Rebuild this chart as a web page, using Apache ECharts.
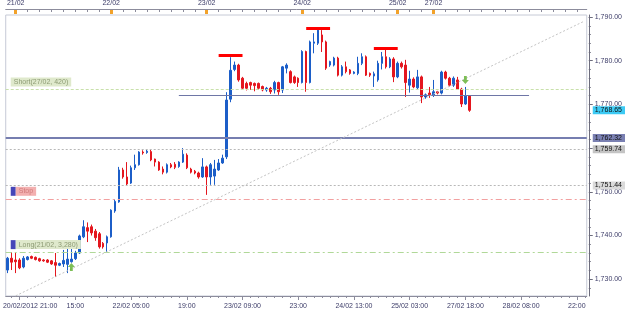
<!DOCTYPE html>
<html lang="en">
<head>
<meta charset="UTF-8">
<title>XAU H1</title>
<script src="https://cdn.jsdelivr.net/npm/echarts@6/dist/echarts.min.js"></script>
<style>html,body{margin:0;padding:0;background:#fff}</style>
</head>
<body>
<div id="container" style="width:625px;height:314px;"></div>
<script>
// hourly candles
var opens = [1732.1,1734.8,1734.4,1734.4,1732.8,1734.5,1735.2,1735.0,1734.7,1734.4,
  1734.4,1734.2,1733.8,1733.2,1733.5,1733.4,1734.0,1734.7,1736.0,1739.7,
  1741.8,1742.0,1741.0,1740.4,1738.2,1738.3,1739.7,1745.6,1747.7,1755.0,
  1753.4,1752.0,1755.5,1756.2,1759.1,1759.0,1759.2,1757.5,1756.8,1755.2,
  1754.5,1756.2,1756.3,1755.8,1756.8,1758.4,1755.2,1754.7,1754.3,1753.4,
  1755.7,1753.4,1753.6,1755.0,1756.6,1758.0,1771.2,1778.0,1779.0,1776.0,
  1774.8,1775.0,1774.8,1774.8,1774.1,1773.3,1773.7,1773.3,1775.0,1773.3,
  1778.3,1777.5,1776.3,1776.0,1775.0,1782.1,1775.0,1784.0,1784.0,1785.9,
  1784.3,1779.0,1779.0,1780.6,1776.7,1778.6,1777.9,1777.1,1777.1,1779.4,
  1780.9,1777.1,1776.5,1775.6,1779.4,1780.9,1778.6,1780.4,1776.3,1779.4,
  1779.0,1774.4,1775.8,1773.8,1776.3,1771.7,1772.6,1772.2,1772.9,1772.6,
  1777.4,1776.0,1774.4,1775.6,1773.5,1770.1,1771.9];
var closes = [1734.8,1733.9,1734.0,1732.6,1734.8,1735.1,1734.8,1734.5,1734.2,1734.2,
  1733.9,1733.5,1733.2,1733.6,1734.3,1734.6,1734.6,1736.0,1739.9,1742.0,
  1741.0,1740.6,1739.5,1737.4,1737.4,1739.7,1745.8,1747.8,1755.0,1753.4,
  1751.8,1755.5,1756.2,1759.1,1758.9,1759.3,1757.3,1756.8,1755.0,1754.5,
  1756.2,1755.7,1755.6,1756.8,1758.6,1755.5,1754.5,1754.3,1753.4,1755.7,
  1753.4,1756.2,1755.2,1756.6,1757.7,1771.0,1777.8,1779.0,1775.6,1773.7,
  1773.7,1774.4,1774.3,1773.7,1773.3,1773.7,1772.9,1775.0,1772.9,1778.6,
  1779.0,1775.0,1775.0,1775.0,1782.1,1775.0,1784.3,1784.3,1787.0,1784.3,
  1778.3,1779.8,1780.6,1776.7,1778.6,1777.5,1777.1,1777.4,1779.4,1780.9,
  1776.7,1776.7,1777.0,1779.4,1780.9,1778.6,1780.4,1776.3,1779.4,1778.6,
  1775.0,1775.8,1774.0,1776.3,1771.7,1772.2,1772.2,1772.9,1772.6,1777.4,
  1776.0,1774.4,1776.0,1773.5,1770.1,1771.9,1768.65];
var lows = [1731.4,1732.1,1731.4,1732.3,1732.5,1734.3,1734.6,1734.3,1734.0,1734.0,
  1733.7,1733.3,1730.5,1733.0,1732.8,1731.4,1733.8,1734.4,1735.8,1739.4,
  1738.5,1740.0,1738.8,1737.0,1737.0,1736.2,1739.5,1745.2,1747.5,1753.0,
  1751.5,1751.8,1755.0,1756.0,1758.5,1758.7,1757.0,1755.8,1754.8,1754.0,
  1754.2,1755.4,1755.2,1755.5,1756.6,1755.2,1754.2,1754.0,1753.0,1753.2,
  1749.3,1751.6,1751.6,1754.8,1756.4,1757.5,1770.5,1777.6,1775.2,1773.4,
  1773.2,1773.3,1773.0,1773.4,1773.0,1772.9,1772.4,1772.5,1772.2,1772.6,
  1777.1,1774.8,1774.7,1774.0,1774.8,1772.9,1774.8,1781.7,1783.6,1782.0,
  1777.9,1778.6,1778.7,1776.4,1776.4,1777.1,1776.8,1776.9,1776.7,1779.0,
  1776.5,1776.3,1774.0,1775.2,1778.0,1778.2,1778.3,1775.1,1776.0,1778.2,
  1771.7,1772.7,1773.7,1773.5,1770.3,1771.3,1771.5,1771.7,1772.3,1772.3,
  1775.7,1774.1,1774.0,1773.3,1769.4,1769.9,1768.3];
var highs = [1735.1,1736.2,1736.0,1734.8,1735.3,1735.3,1735.4,1735.2,1734.9,1734.6,
  1734.6,1734.4,1736.0,1733.8,1736.7,1737.2,1737.2,1736.5,1740.2,1743.5,
  1743.0,1742.5,1741.5,1740.8,1738.5,1740.0,1746.0,1748.3,1755.7,1755.5,
  1756.8,1756.0,1758.5,1759.3,1759.5,1759.6,1759.8,1757.6,1757.0,1755.8,
  1756.5,1756.6,1756.8,1757.0,1760.0,1758.8,1755.5,1755.0,1754.6,1757.7,
  1756.0,1756.6,1757.3,1757.5,1758.5,1772.8,1780.8,1779.8,1779.3,1776.3,
  1775.2,1775.2,1775.0,1775.0,1774.3,1774.0,1774.0,1775.4,1775.2,1778.8,
  1779.4,1777.8,1776.6,1776.2,1782.4,1782.3,1784.6,1786.3,1787.5,1787.0,
  1784.6,1780.0,1780.9,1780.9,1779.0,1779.8,1778.1,1777.6,1780.9,1781.7,
  1781.2,1777.3,1777.5,1780.0,1782.0,1782.9,1780.8,1780.8,1779.8,1779.8,
  1780.2,1777.7,1776.2,1777.9,1776.6,1772.5,1774.0,1775.6,1773.1,1777.7,
  1777.7,1776.3,1776.4,1776.3,1773.8,1774.0,1772.0];

// axis labels
var slotCount = 146;
var bottomLabels = ['20/02/2012 21:00','15:00','22/02 05:00','19:00','23/02 09:00','23:00',
  '24/02 13:00','25/02 03:00','27/02 18:00','28/02 08:00','22:00'];
var bottomLabelIdx = [3,17,31,45,59,73,87,101,115,129,143];
var dayLabels = ['21/02','22/02','23/02','24/02','25/02','27/02'];
var dayIdx = [2,26,50,74,98,107];
var yTicks = [1730,1740,1750,1760,1770,1780,1790];
var yMinor = [1728,1732,1734,1736,1738,1742,1744,1746,1748,1752,1754,1756,1758,
  1762,1764,1766,1768,1772,1774,1776,1778,1782,1784,1786,1788,1790];

// levels drawn on the chart
var lastPrice = 1768.65;
var pivotLevel = 1762.32;
var greyLevels = [1759.74, 1751.44];
var shortLevel = 1773.4, stopLevel = 1748.4, longLevel = 1736.2;
var neckline = [43, 131, 1772.15];
var tops = [[53, 59, 1781.3], [75, 81, 1787.5], [92, 98, 1782.9]];
var trendLine = [[2, 1726.2], [145, 1789.1]];
var buyArrow = [16, 1732.8];
var sellArrow = [115, 1775.6];

function fmt(v) {
  var p = v.toFixed(2).split('.');
  return p[0].replace(/\B(?=(\d{3})+(?!\d))/g, ',') + '.' + p[1];
}

var timeCats = [], dayCats = [];
for (var i = 0; i < slotCount; i++) { timeCats.push(''); dayCats.push(''); }
bottomLabelIdx.forEach(function (k, j) { timeCats[k] = bottomLabels[j]; });
dayIdx.forEach(function (k, j) { dayCats[k] = dayLabels[j]; });

var candles = opens.map(function (o, i) { return [o, closes[i], lows[i], highs[i]]; });

var axisText = '#3c3c68';
var font = 'Liberation Sans';

function priceTag(v, bg, line) {
  return {
    yAxis: v,
    lineStyle: line,
    label: {
      show: true, position: 'end', distance: [6, 0], formatter: fmt(v),
      backgroundColor: bg, color: '#111', fontSize: 7, fontFamily: font,
      padding: [1, 3, 0, 2]
    }
  };
}

function tagLabel(text, bg, fg, square) {
  return {
    show: true, position: 'insideStartTop', distance: [5, 3],
    formatter: (square ? '{sq|}' : '') + '{t|' + text + '}',
    rich: {
      sq: { width: 5, height: 9, backgroundColor: '#4646b8' },
      t: { backgroundColor: bg, color: fg, fontSize: 7, fontFamily: font, height: 9, padding: [0, 3, 0, 3] }
    }
  };
}

var markData = [
  priceTag(lastPrice, '#3ccaf4', { color: 'rgba(255,255,255,0)', width: 1 }),
  priceTag(pivotLevel, '#7a80b2', { color: '#767eb0', width: 2, type: 'solid' }),
  priceTag(greyLevels[0], '#c4c4c4', { color: '#b8b8b8', width: 1, type: [2, 2] }),
  priceTag(greyLevels[1], '#dadada', { color: '#b8b8b8', width: 1, type: [2, 2] }),
  { yAxis: shortLevel, lineStyle: { color: '#c8e0aa', width: 1, type: [3, 2] },
    label: tagLabel('Short(27/02, 420)', '#dfe9cc', '#8d9b74', false) },
  { yAxis: stopLevel, lineStyle: { color: '#f2a0a0', width: 1, type: [6, 3, 2, 3] },
    label: tagLabel('Stop', '#f3b0b0', '#cf7a7a', true) },
  { yAxis: longLevel, lineStyle: { color: '#b0d898', width: 1, type: [6, 3, 2, 3] },
    label: tagLabel('Long(21/02, 3,280)', '#dfe9cc', '#8d9b74', true) },
  [{ coord: [neckline[0], neckline[2]] }, { coord: [neckline[1], neckline[2]],
    lineStyle: { color: '#6e76a6', width: 1, type: 'solid' } }],
  [{ coord: trendLine[0] }, { coord: trendLine[1],
    lineStyle: { color: '#c4c4c4', width: 1, type: [2, 2] } }]
];
tops.forEach(function (t) {
  markData.push([{ coord: [t[0], t[2]] }, { coord: [t[1], t[2]],
    lineStyle: { color: '#ff0000', width: 3, type: 'solid' } }]);
});

var chart = echarts.init(document.getElementById('container'));
chart.setOption({
  animation: false,
  backgroundColor: '#ffffff',
  grid: { left: 2, right: 35, top: 15, bottom: 18, show: true, borderColor: '#c6cad6', borderWidth: 1 },
  xAxis: [
    {
      type: 'category', data: timeCats, position: 'bottom', boundaryGap: true,
      axisLine: { show: true, lineStyle: { color: '#8c8c9c' } },
      axisTick: { show: true, length: 4, alignWithLabel: true, lineStyle: { color: '#8c8c9c' },
        interval: function (i) { return (i - 3) % 14 === 0; } },
      axisLabel: { fontSize: 7, fontFamily: font, color: axisText, margin: 7,
        interval: function (i) { return bottomLabelIdx.indexOf(i) >= 0; },
        formatter: function (v, i) { return i === 3 ? '{f|' + v + '}' : v; },
        rich: { f: { fontSize: 7, fontFamily: font, color: axisText, padding: [0, 0, 0, 21] } } },
      splitLine: { show: false }
    },
    {
      type: 'category', data: timeCats, position: 'bottom', boundaryGap: true,
      axisLine: { show: false },
      axisTick: { show: true, length: 2, alignWithLabel: true, lineStyle: { color: '#8c8c9c' },
        interval: function (i) { return (i - 3) % 2 === 0; } },
      axisLabel: { show: false }, splitLine: { show: false }
    },
    {
      type: 'category', data: dayCats, position: 'top', offset: 6, boundaryGap: true,
      axisLine: { show: true, lineStyle: { color: '#8c8c9c' } },
      axisTick: { show: true, inside: true, length: 3, alignWithLabel: true, lineStyle: { color: '#8c8c9c' },
        interval: function (i) { return (i - 2) % 3 === 0; } },
      axisLabel: { fontSize: 7, fontFamily: font, color: axisText, margin: 2,
        interval: function (i) { return dayIdx.indexOf(i) >= 0; } },
      splitLine: { show: false }
    },
    {
      // orange day-start markers on the top strip
      type: 'category', data: dayCats, position: 'top', offset: 5, boundaryGap: true,
      axisLine: { show: false },
      axisTick: { show: true, inside: true, length: 4, alignWithLabel: true,
        lineStyle: { color: '#f2a22a', width: 3 },
        interval: function (i) { return dayIdx.indexOf(i) >= 0; } },
      axisLabel: { show: false }, splitLine: { show: false }
    }
  ],
  yAxis: [
    {
      type: 'value', position: 'right', offset: 2, min: 1726.16, max: 1790.46, scale: true,
      axisLine: { show: true, lineStyle: { color: '#6c6c7c' } },
      axisTick: { show: true, length: 4, customValues: yTicks, lineStyle: { color: '#6c6c7c' } },
      axisLabel: { customValues: yTicks, fontSize: 7, fontFamily: font, color: axisText, margin: 6,
        formatter: function (v) { return fmt(v); } },
      splitLine: { show: false }
    },
    {
      type: 'value', position: 'right', offset: 2, min: 1726.16, max: 1790.46, scale: true,
      axisLine: { show: false },
      axisTick: { show: true, length: 2, customValues: yMinor, lineStyle: { color: '#6c6c7c' } },
      axisLabel: { show: false }, splitLine: { show: false }
    }
  ],
  series: [
    {
      type: 'candlestick', xAxisIndex: 0, yAxisIndex: 0, data: candles, barWidth: 2,
      itemStyle: { color: '#1c5ec8', color0: '#e4161e', borderColor: '#1c5ec8', borderColor0: '#e4161e', borderWidth: 1 },
      markLine: { silent: true, symbol: ['none', 'none'], label: { show: false }, data: markData }
    },
    {
      type: 'scatter', data: [buyArrow], symbol: 'path://M5,0 L10,5 L7,5 L7,10 L3,10 L3,5 L0,5 Z',
      symbolSize: [7, 8], itemStyle: { color: '#5cae2c' }, silent: true, z: 5
    },
    {
      type: 'scatter', data: [sellArrow], symbol: 'path://M5,10 L10,5 L7,5 L7,0 L3,0 L3,5 L0,5 Z',
      symbolSize: [7, 8], itemStyle: { color: '#5cae2c' }, silent: true, z: 5
    }
  ]
});
</script>
</body>
</html>
